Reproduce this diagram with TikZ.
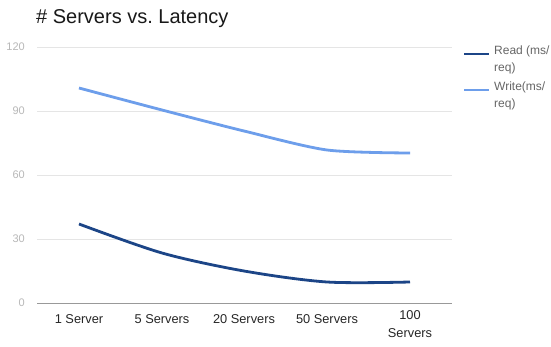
\documentclass[tikz,border=0pt]{standalone}
\usepackage{fontspec}
\setmainfont{Liberation Sans}
\begin{document}
\begin{tikzpicture}[x=1pt,y=-1pt,
  grid/.style={draw=black!10,line width=0.9pt},
  baseaxis/.style={draw=black!40,line width=0.9pt},
  ylab/.style={anchor=east,text=black!28,font=\fontsize{11}{13}\selectfont,inner sep=0pt},
  xlab/.style={anchor=center,text=black!85,font=\fontsize{12.8}{18}\selectfont,inner sep=0pt,align=center},
  leglab/.style={anchor=north west,text=black!60,font=\fontsize{12}{17}\selectfont,inner sep=0pt,align=left},
  readline/.style={draw=readblue,line width=2.8pt,line join=round},
  writeline/.style={draw=writeblue,line width=2.8pt,line join=round}]
\definecolor{readblue}{HTML}{1C4587}
\definecolor{writeblue}{HTML}{6D9EEB}
\useasboundingbox (0,0) rectangle (551,347);
\fill[white] (0,0) rectangle (551,347);

% title
\node[anchor=base west,inner sep=0pt,font=\fontsize{20}{24}\selectfont,text=black!90] (title) at (36,24) {\# Servers vs.\ Latency};

% horizontal grid and value labels
\foreach \v/\yy in {120/47,90/111,60/175,30/239}{
  \draw[grid] (37,\yy) -- (452,\yy);
  \node[ylab] (y\v) at (25,\yy) {\v};
}
\draw[baseaxis] (37,303) -- (452,303);
\node[ylab] (y0) at (25,303) {0};

% category labels
\node[xlab] (c1) at (79,319) {1 Server};
\node[xlab] (c2) at (162,319) {5 Servers};
\node[xlab] (c3) at (244,319) {20 Servers};
\node[xlab] (c4) at (327,319) {50 Servers};
\node[xlab,anchor=north] (c5) at (410,310.5) {100\\Servers};

% data series
\draw[writeline] plot[smooth,tension=0.45] coordinates {(79,88) (162,110) (244,131) (327,150) (410,153)};
\draw[readline] plot[smooth,tension=0.5] coordinates {(79,224) (162,253) (244,271) (327,282) (410,282)};

% legend
\coordinate (lr1) at (464,54); \coordinate (lr2) at (489,54);
\coordinate (lw1) at (464,90); \coordinate (lw2) at (489,90);
\draw[readline] (lr1) -- (lr2);
\draw[writeline] (lw1) -- (lw2);
\node[leglab] (lread) at (494,46) {Read (ms/\\req)};
\node[leglab] (lwrite) at (494,82) {Write(ms/\\req)};
\end{tikzpicture}
\end{document}
